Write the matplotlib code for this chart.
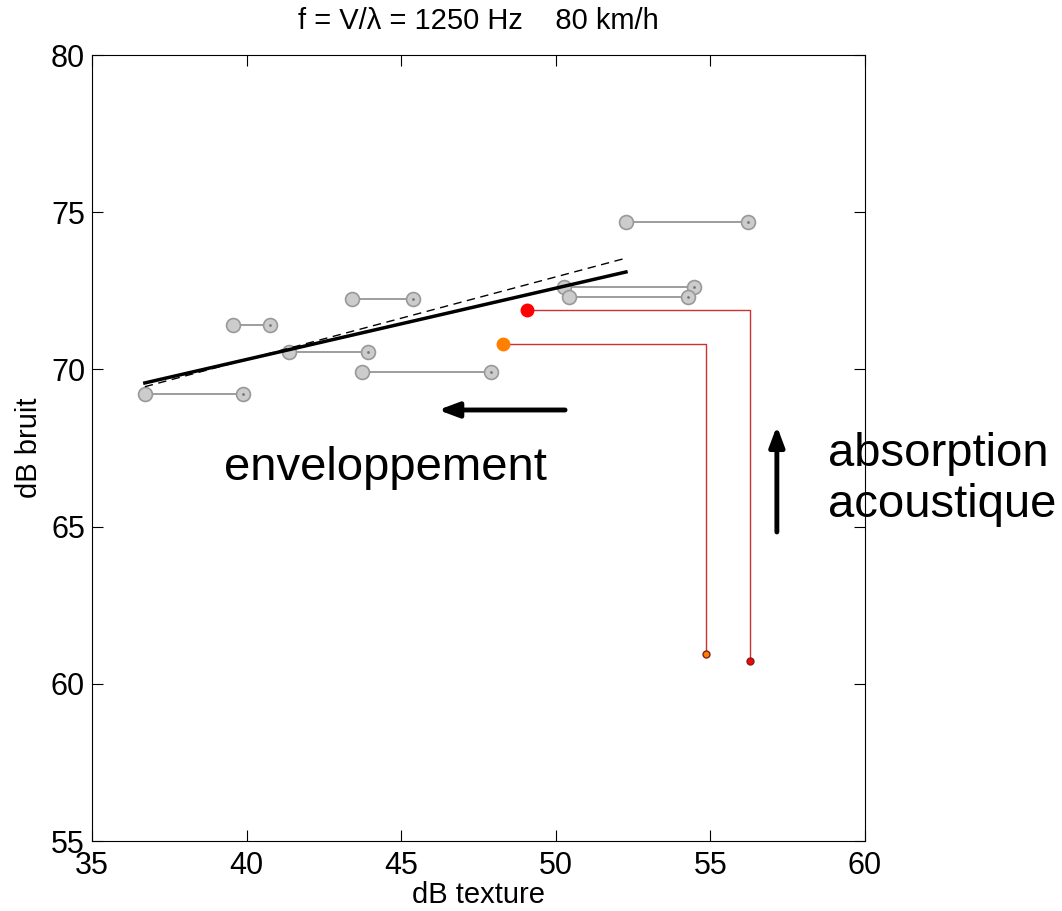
import matplotlib
matplotlib.use("Agg")
import matplotlib.pyplot as plt

plt.rcParams['font.family'] = ['Liberation Sans', 'DejaVu Sans']

# paired measurements (left / right end of each horizontal segment)
pair_y = [74.69, 72.62, 72.30, 72.24, 71.41, 70.55, 69.92, 69.22]
pair_x1 = [52.27, 50.27, 50.43, 43.41, 39.56, 41.37, 43.73, 36.71]
pair_x2 = [56.22, 54.47, 54.28, 45.38, 40.76, 43.93, 47.90, 39.88]

# regression lines
fit_x = [36.71, 52.27]
fit_solid_y = [69.57, 73.10]
fit_dash_y = [69.45, 73.54]

# highlighted surfaces: top point and bottom point
hl_colors = ['#ff0000', '#ff8000']
hl_top_x = [49.07, 48.29]
hl_top_y = [71.89, 70.81]
hl_bot_x = [56.28, 54.86]
hl_bot_y = [60.73, 60.95]

fig = plt.figure(figsize=(10.62, 9.11), dpi=100)
ax = fig.add_axes([0.0866, 0.0768, 0.7279, 0.8628])

for y, a, b in zip(pair_y, pair_x1, pair_x2):
    ax.plot([a, b], [y, y], color='#8c8c8c', lw=1.2, zorder=2)
    ax.plot([a, b], [y, y], 'o', ms=10, mfc='#cccccc', mec='#999999', mew=1.2, zorder=3)
    ax.plot([b], [y], '.', ms=2, color='#777777', zorder=4)

ax.plot(fit_x, fit_solid_y, color='black', lw=2.5, zorder=5)
ax.plot(fit_x, fit_dash_y, color='black', lw=1, ls=(0, (6, 4)), zorder=5)

for c, tx, ty, bx, by in zip(hl_colors, hl_top_x, hl_top_y, hl_bot_x, hl_bot_y):
    ax.plot([tx, bx, bx], [ty, ty, by], color='#d03030', lw=1, zorder=2)
    ax.plot([tx], [ty], 'o', ms=9, mfc=c, mec=c, zorder=6)
    ax.plot([bx], [by], 'o', ms=5, mfc=c, mec='#802020', mew=1, zorder=6)

arrow = dict(arrowstyle='-|>,head_length=1.2,head_width=0.45', color='black', lw=3.5,
             shrinkA=0, shrinkB=0)
ax.annotate('', xy=(46.2, 68.71), xytext=(50.3, 68.71), arrowprops=arrow)
ax.annotate('', xy=(57.15, 68.2), xytext=(57.15, 64.83), arrowprops=arrow)
ax.text(44.5, 66.86, 'enveloppement', fontsize=34, ha='center', va='center')
ax.text(58.8, 66.5, 'absorption\nacoustique', fontsize=34, ha='left', va='center',
        linespacing=1.2, clip_on=False)

ax.set_xlim(35, 60)
ax.set_ylim(55, 80)
ax.set_xticks([35, 40, 45, 50, 55, 60])
ax.set_yticks([55, 60, 65, 70, 75, 80])
ax.tick_params(direction='in', top=True, right=True, labelsize=22, length=8)
ax.tick_params(axis='x', pad=7)
ax.tick_params(axis='y', pad=5)
ax.set_xlabel('dB texture', fontsize=21, labelpad=0)
ax.set_ylabel('dB bruit', fontsize=21, labelpad=6)
ax.set_title('f = V/\u03bb = 1250 Hz    80 km/h', fontsize=21, pad=19)

fig.savefig('out.png', dpi=100)
